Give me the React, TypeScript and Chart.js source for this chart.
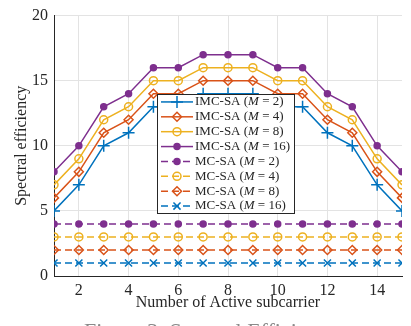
import React, { useEffect, useRef } from "react";
import { Chart, registerables } from "chart.js";
import { drawPoint } from "chart.js/helpers";

Chart.register(...registerables);

const subcarriers = [1, 2, 3, 4, 5, 6, 7, 8, 9, 10, 11, 12, 13, 14, 15];
const imcM2 = [5, 7, 10, 11, 13, 13, 14, 14, 14, 13, 13, 11, 10, 7, 5];
const imcM4 = [6, 8, 11, 12, 14, 14, 15, 15, 15, 14, 14, 12, 11, 8, 6];
const imcM8 = [7, 9, 12, 13, 15, 15, 16, 16, 16, 15, 15, 13, 12, 9, 7];
const imcM16 = [8, 10, 13, 14, 16, 16, 17, 17, 17, 16, 16, 14, 13, 10, 8];
const mcM2 = [4, 4, 4, 4, 4, 4, 4, 4, 4, 4, 4, 4, 4, 4, 4];
const mcM4 = [3, 3, 3, 3, 3, 3, 3, 3, 3, 3, 3, 3, 3, 3, 3];
const mcM8 = [2, 2, 2, 2, 2, 2, 2, 2, 2, 2, 2, 2, 2, 2, 2];
const mcM16 = [1, 1, 1, 1, 1, 1, 1, 1, 1, 1, 1, 1, 1, 1, 1];
const xTicks = [2, 4, 6, 8, 10, 12, 14];
const yTicks = [0, 5, 10, 15, 20];

const BLUE = "#0072BD";
const ORANGE = "#D95319";
const YELLOW = "#EDB120";
const PURPLE = "#7E2F8E";
const SERIF = "'Liberation Serif', 'DejaVu Serif', serif";

type Spec = {
  prefix: string;
  m: string;
  data: number[];
  color: string;
  style: string;
  radius: number;
  filled: boolean;
  dashed: boolean;
};

const series: Spec[] = [
  { prefix: "IMC-SA", m: "2", data: imcM2, color: BLUE, style: "cross", radius: 6, filled: false, dashed: false },
  { prefix: "IMC-SA", m: "4", data: imcM4, color: ORANGE, style: "rectRot", radius: 4.5, filled: false, dashed: false },
  { prefix: "IMC-SA", m: "8", data: imcM8, color: YELLOW, style: "circle", radius: 4, filled: false, dashed: false },
  { prefix: "IMC-SA", m: "16", data: imcM16, color: PURPLE, style: "circle", radius: 3, filled: true, dashed: false },
  { prefix: "MC-SA", m: "2", data: mcM2, color: PURPLE, style: "circle", radius: 3, filled: true, dashed: true },
  { prefix: "MC-SA", m: "4", data: mcM4, color: YELLOW, style: "circle", radius: 4, filled: false, dashed: true },
  { prefix: "MC-SA", m: "8", data: mcM8, color: ORANGE, style: "rectRot", radius: 4.5, filled: false, dashed: true },
  { prefix: "MC-SA", m: "16", data: mcM16, color: BLUE, style: "crossRot", radius: 5, filled: false, dashed: true },
];

const DASH = [7, 4];

const legendPlugin = {
  id: "matlabLegend",
  afterDraw(chart: any) {
    const ctx = chart.ctx as CanvasRenderingContext2D;
    const left = 157;
    const top = 94;
    const w = 137;
    const h = 119;
    ctx.save();
    ctx.fillStyle = "#ffffff";
    ctx.fillRect(left, top, w, h);
    ctx.strokeStyle = "#262626";
    ctx.lineWidth = 1;
    ctx.setLineDash([]);
    ctx.strokeRect(left + 0.5, top + 0.5, w, h);
    const rowH = h / series.length;
    series.forEach((s, i) => {
      const cy = top + rowH * (i + 0.5) + 0.5;
      const x0 = left + 4;
      const x1 = left + 36;
      ctx.strokeStyle = s.color;
      ctx.lineWidth = 1.5;
      ctx.setLineDash(s.dashed ? DASH : []);
      ctx.beginPath();
      ctx.moveTo(x0, cy);
      ctx.lineTo(x1, cy);
      ctx.stroke();
      ctx.setLineDash([]);
      ctx.fillStyle = s.filled ? s.color : "rgba(0,0,0,0)";
      ctx.strokeStyle = s.color;
      ctx.lineWidth = 1.5;
      drawPoint(ctx, { pointStyle: s.style, radius: s.radius, borderWidth: 1.5, rotation: 0 } as any, (x0 + x1) / 2, cy);
      ctx.fillStyle = "#262626";
      ctx.textBaseline = "middle";
      ctx.textAlign = "left";
      let tx = x1 + 2;
      ctx.font = `13px ${SERIF}`;
      const p1 = `${s.prefix} (`;
      ctx.fillText(p1, tx, cy);
      tx += ctx.measureText(p1).width;
      ctx.font = `italic 13px ${SERIF}`;
      ctx.fillText("M", tx, cy);
      tx += ctx.measureText("M").width;
      ctx.font = `13px ${SERIF}`;
      const p2 = ` = ${s.m})`;
      ctx.fillText(p2, tx, cy);
    });
    ctx.restore();
  },
};

export default function App() {
  const ref = useRef<HTMLCanvasElement | null>(null);
  useEffect(() => {
    if (!ref.current) return;
    const chart = new Chart(ref.current, {
      type: "line",
      data: {
        datasets: series.map((s) => ({
          label: `${s.prefix} (M = ${s.m})`,
          data: subcarriers.map((x, i) => ({ x, y: s.data[i] })),
          borderColor: s.color,
          backgroundColor: s.filled ? s.color : "rgba(0,0,0,0)",
          borderWidth: 1.5,
          borderDash: s.dashed ? DASH : [],
          pointStyle: s.style as any,
          pointRadius: s.radius,
          pointBorderWidth: 1.5,
          pointBorderColor: s.color,
          pointBackgroundColor: s.filled ? s.color : "rgba(0,0,0,0)",
          tension: 0,
          fill: false,
        })),
      },
      options: {
        animation: false,
        responsive: false,
        maintainAspectRatio: false,
        layout: { padding: { top: 8, right: 9, left: 0, bottom: 14 } },
        plugins: {
          legend: { display: false },
          tooltip: { enabled: false },
        },
        scales: {
          x: {
            type: "linear",
            min: 1,
            max: 15,
            afterBuildTicks: (axis: any) => {
              axis.ticks = xTicks.map((v) => ({ value: v }));
            },
            afterFit: (axis: any) => {
              axis.height = 36;
            },
            ticks: {
              color: "#262626",
              font: { family: SERIF, size: 16 },
              padding: 5,
              maxRotation: 0,
            },
            grid: { color: "#e3e3e3", drawTicks: false },
            border: { color: "#262626", width: 1 },
            title: {
              display: true,
              text: "Number of Active subcarrier",
              color: "#262626",
              font: { family: SERIF, size: 16 },
              padding: { top: 0, bottom: 0 },
            },
          },
          y: {
            type: "linear",
            min: 0,
            max: 20,
            afterBuildTicks: (axis: any) => {
              axis.ticks = yTicks.map((v) => ({ value: v }));
            },
            afterFit: (axis: any) => {
              axis.width = 54;
            },
            ticks: {
              color: "#262626",
              font: { family: SERIF, size: 16 },
              padding: 6,
            },
            grid: { color: "#e3e3e3", drawTicks: false },
            border: { color: "#262626", width: 1 },
            title: {
              display: true,
              text: "Spectral efficiency",
              color: "#262626",
              font: { family: SERIF, size: 16 },
              padding: { top: 12, bottom: 0 },
            },
          },
        },
      },
      plugins: [legendPlugin],
    });
    return () => chart.destroy();
  }, []);
  return (
    <div style={{ position: "fixed", left: 0, top: 0, width: 411, height: 326, overflow: "hidden", background: "#fff" }}>
      <canvas ref={ref} width={411} height={326} style={{ display: "block", width: 411, height: 326 }} />
      <div
        style={{
          position: "absolute",
          left: 84,
          top: 318,
          fontFamily: SERIF,
          fontSize: 22,
          lineHeight: "25px",
          color: "#8a8a8a",
          whiteSpace: "nowrap",
        }}
      >
        Figure 3: Spectral Efficiency
      </div>
    </div>
  );
}
